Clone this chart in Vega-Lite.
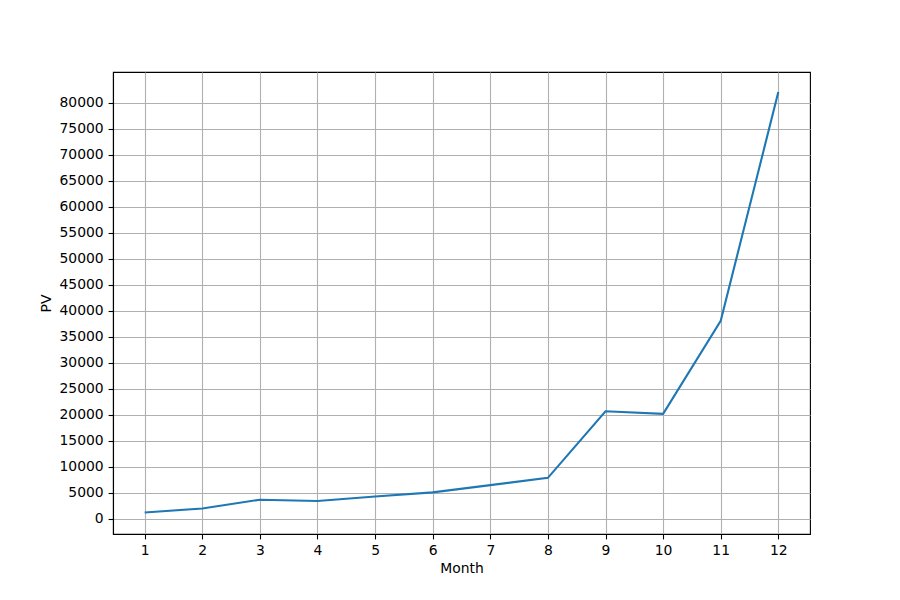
{
  "$schema": "https://vega.github.io/schema/vega-lite/v6.json",
  "width": 697,
  "height": 462,
  "autosize": {"type": "none"},
  "padding": {"left": 113, "top": 72, "right": 90, "bottom": 66},
  "background": "white",
  "config": {
    "view": {"stroke": "black", "strokeWidth": 1.1},
    "axis": {
      "labelFont": "DejaVu Sans",
      "titleFont": "DejaVu Sans",
      "labelFontSize": 13.9,
      "titleFontSize": 13.9,
      "titleFontWeight": "normal",
      "labelColor": "black",
      "titleColor": "black",
      "tickColor": "black",
      "tickSize": 4.9,
      "tickWidth": 1.1,
      "domainColor": "black",
      "domainWidth": 1.1,
      "gridColor": "#b0b0b0",
      "gridWidth": 1.1,
      "gridOpacity": 1,
      "labelPadding": 4.9
    }
  },
  "data": {
    "values": [
      {"Month": 1, "PV": 1250},
      {"Month": 2, "PV": 2000},
      {"Month": 3, "PV": 3700},
      {"Month": 4, "PV": 3450},
      {"Month": 5, "PV": 4300},
      {"Month": 6, "PV": 5100},
      {"Month": 7, "PV": 6500},
      {"Month": 8, "PV": 7900},
      {"Month": 9, "PV": 20700},
      {"Month": 10, "PV": 20200},
      {"Month": 11, "PV": 38100},
      {"Month": 12, "PV": 82100}
    ]
  },
  "mark": {"type": "line", "color": "#1f77b4", "strokeWidth": 2.1},
  "encoding": {
    "x": {
      "field": "Month",
      "type": "quantitative",
      "scale": {"domain": [0.45, 12.55], "nice": false, "zero": false},
      "axis": {
        "values": [1, 2, 3, 4, 5, 6, 7, 8, 9, 10, 11, 12],
        "format": "d",
        "title": "Month",
        "titlePadding": 4
      }
    },
    "y": {
      "field": "PV",
      "type": "quantitative",
      "scale": {"domain": [-2900, 85960], "nice": false, "zero": false},
      "axis": {
        "values": [0, 5000, 10000, 15000, 20000, 25000, 30000, 35000, 40000, 45000, 50000, 55000, 60000, 65000, 70000, 75000, 80000],
        "format": "d",
        "title": "PV",
        "titlePadding": 6
      }
    }
  }
}
